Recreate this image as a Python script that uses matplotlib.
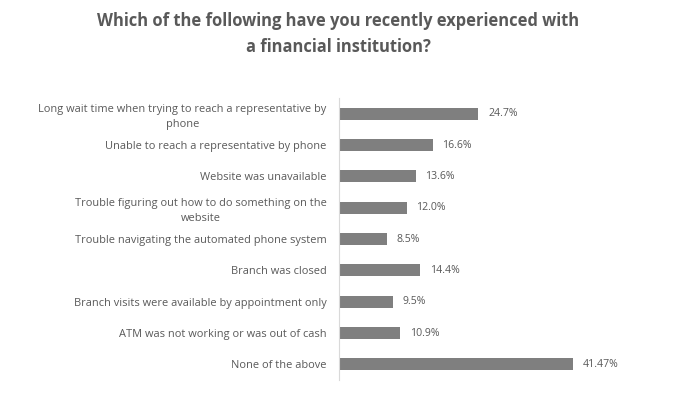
#!/usr/bin/env python3

import matplotlib
matplotlib.use("Agg")
import matplotlib.pyplot as plt

# ----------------------------------------------------------
# data
# ----------------------------------------------------------
categories = [
    "Long wait time when trying to reach a representative by\nphone",
    "Unable to reach a representative by phone",
    "Website was unavailable",
    "Trouble figuring out how to do something on the\nwebsite",
    "Trouble navigating the automated phone system",
    "Branch was closed",
    "Branch visits were available by appointment only",
    "ATM was not working or was out of cash",
    "None of the above",
]
values = [24.7, 16.6, 13.6, 12.0, 8.5, 14.4, 9.5, 10.9, 41.47]
value_labels = ["24.7%", "16.6%", "13.6%", "12.0%", "8.5%",
                "14.4%", "9.5%", "10.9%", "41.47%"]

TITLE = "Which of the following have you recently experienced with\na financial institution?"

TEXT_COLOR = "#595959"
BAR_COLOR = "#7f7f7f"

plt.rcParams["font.family"] = ["Open Sans", "DejaVu Sans"]

W, H = 676, 397
fig = plt.figure(figsize=(W / 100, H / 100), dpi=100)

# axes: left edge at x=339, top 98, bottom 380 (pixels)
ax_left = 339 / W
ax_right = 621 / W
ax_top = 1 - 98 / H
ax_bottom = 1 - 380 / H
ax = fig.add_axes([ax_left, ax_bottom, ax_right - ax_left, ax_top - ax_bottom])

y = list(range(len(categories)))
ax.barh(y, values, height=0.39, color=BAR_COLOR)

ax.set_ylim(len(categories) - 0.5, -0.5)
ax.set_xlim(0, 50)

for yi, v, lab in zip(y, values, value_labels):
    ax.annotate(lab, (v, yi), xytext=(7, 0), textcoords="offset points",
                ha="left", va="center", fontsize=7.6, color=TEXT_COLOR)

ax.set_yticks(y)
ax.set_yticklabels(categories, fontsize=7.9, color=TEXT_COLOR,
                   multialignment="center", linespacing=1.45)
ax.tick_params(axis="y", length=0, pad=9)
ax.set_xticks([])

for s in ["top", "right", "bottom"]:
    ax.spines[s].set_visible(False)
ax.spines["left"].set_color("#d9d9d9")
ax.spines["left"].set_linewidth(0.8)

fig.text(0.5, 1 - 34 / H, TITLE, ha="center", va="center",
         fontsize=11.9, fontweight="bold", color=TEXT_COLOR, linespacing=1.55)

fig.savefig("out.png", dpi=100, facecolor="white")
